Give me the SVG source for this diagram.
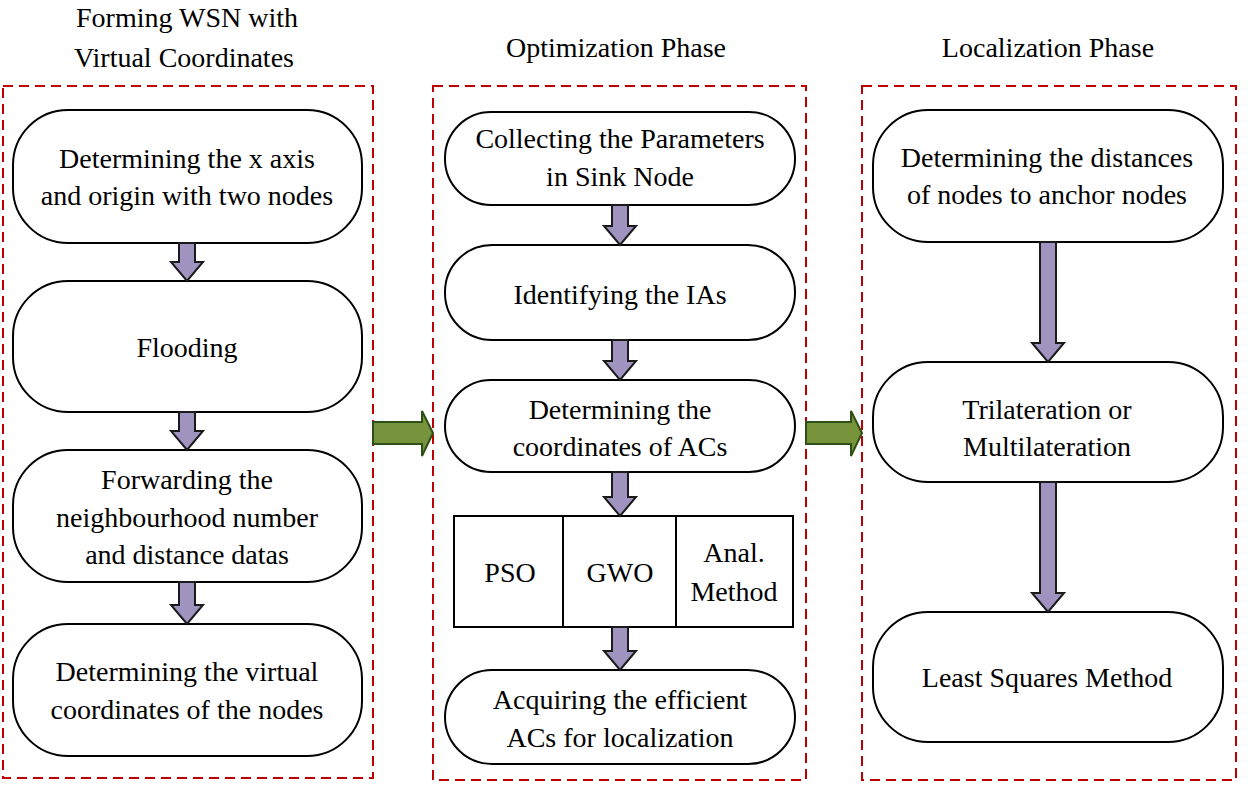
<svg xmlns="http://www.w3.org/2000/svg" width="1251" height="794" viewBox="0 0 1251 794">
<style>
text{font-family:"Liberation Serif",Tinos,"Times New Roman",Times,"Noto Serif","DejaVu Serif",FreeSerif,serif;font-size:28px;fill:#000;text-anchor:middle}
.phase{fill:none;stroke:#C00000;stroke-width:2;stroke-dasharray:10 6}
.node{fill:#fff;stroke:#000;stroke-width:2}
.down{fill:#A093BF;stroke:#1a1a1a;stroke-width:2;stroke-linejoin:miter}
.right{fill:#77933C;stroke:#2E4F17;stroke-width:2}
</style>
<rect width="1251" height="794" fill="#fff"/>
<g id="titles">
<text x="187" y="27">Forming WSN with</text>
<text x="184" y="67">Virtual Coordinates</text>
<text x="616" y="57">Optimization Phase</text>
<text x="1048" y="57">Localization Phase</text>
</g>
<g id="phases">
<rect class="phase" x="3" y="86" width="370" height="692"/>
<rect class="phase" x="433" y="86" width="373" height="694"/>
<rect class="phase" x="862" y="86" width="374" height="694"/>
</g>
<g id="n1"><rect class="node" x="13" y="110" width="349" height="133" rx="55"/><text x="187" y="168">Determining the x axis</text><text x="187" y="205">and origin with two nodes</text></g>
<g id="n2"><rect class="node" x="13" y="281" width="349" height="131" rx="55"/><text x="187" y="357">Flooding</text></g>
<g id="n3"><rect class="node" x="13" y="450" width="349" height="132" rx="55"/><text x="187" y="489">Forwarding the</text><text x="187" y="527">neighbourhood number</text><text x="187" y="564">and distance datas</text></g>
<g id="n4"><rect class="node" x="13" y="624" width="349" height="132" rx="55"/><text x="187" y="681">Determining the virtual</text><text x="187" y="719">coordinates of the nodes</text></g>
<g id="m1"><rect class="node" x="445" y="112" width="350" height="93" rx="46"/><text x="620" y="148">Collecting the Parameters</text><text x="620" y="186">in Sink Node</text></g>
<g id="m2"><rect class="node" x="445" y="245" width="350" height="95" rx="47"/><text x="620" y="304">Identifying the IAs</text></g>
<g id="m3"><rect class="node" x="445" y="380" width="350" height="92" rx="46"/><text x="620" y="419">Determining the</text><text x="620" y="456">coordinates of ACs</text></g>
<g id="m4"><rect class="node" x="454" y="516" width="339" height="111" rx="0"/><line x1="563" y1="516" x2="563" y2="627" stroke="#000" stroke-width="2"/><line x1="676" y1="516" x2="676" y2="627" stroke="#000" stroke-width="2"/><text x="510" y="582">PSO</text><text x="620" y="582">GWO</text><text x="734" y="562">Anal.</text><text x="734" y="601">Method</text></g>
<g id="m5"><rect class="node" x="445" y="670" width="350" height="94" rx="47"/><text x="620" y="709">Acquiring the efficient</text><text x="620" y="747">ACs for localization</text></g>
<g id="r1"><rect class="node" x="873" y="110" width="350" height="132" rx="55"/><text x="1047" y="167">Determining the distances</text><text x="1047" y="204">of nodes to anchor nodes</text></g>
<g id="r2"><rect class="node" x="873" y="362" width="350" height="120" rx="55"/><text x="1047" y="419">Trilateration or</text><text x="1047" y="456">Multilateration</text></g>
<g id="r3"><rect class="node" x="873" y="612" width="350" height="130" rx="55"/><text x="1047" y="687">Least Squares Method</text></g>
<g id="connectors">
<path class="down" d="M179 243 V262 H171 L187 281 L203 262 H195 V243 Z"/>
<path class="down" d="M179 412 V431 H171 L187 450 L203 431 H195 V412 Z"/>
<path class="down" d="M179 582 V605 H171 L187 624 L203 605 H195 V582 Z"/>
<path class="down" d="M612 205 V226 H604 L620 245 L636 226 H628 V205 Z"/>
<path class="down" d="M612 340 V361 H604 L620 380 L636 361 H628 V340 Z"/>
<path class="down" d="M612 472 V497 H604 L620 516 L636 497 H628 V472 Z"/>
<path class="down" d="M612 627 V651 H604 L620 670 L636 651 H628 V627 Z"/>
<path class="down" d="M1040 242 V343 H1032 L1048 362 L1064 343 H1056 V242 Z"/>
<path class="down" d="M1040 482 V593 H1032 L1048 612 L1064 593 H1056 V482 Z"/>
<path class="right" d="M373 422 H422 V411 L433 433 L422 456 V444 H373 Z"/>
<path class="right" d="M806 422 H851 V411 L862 433 L851 456 V444 H806 Z"/>
</g>
</svg>
